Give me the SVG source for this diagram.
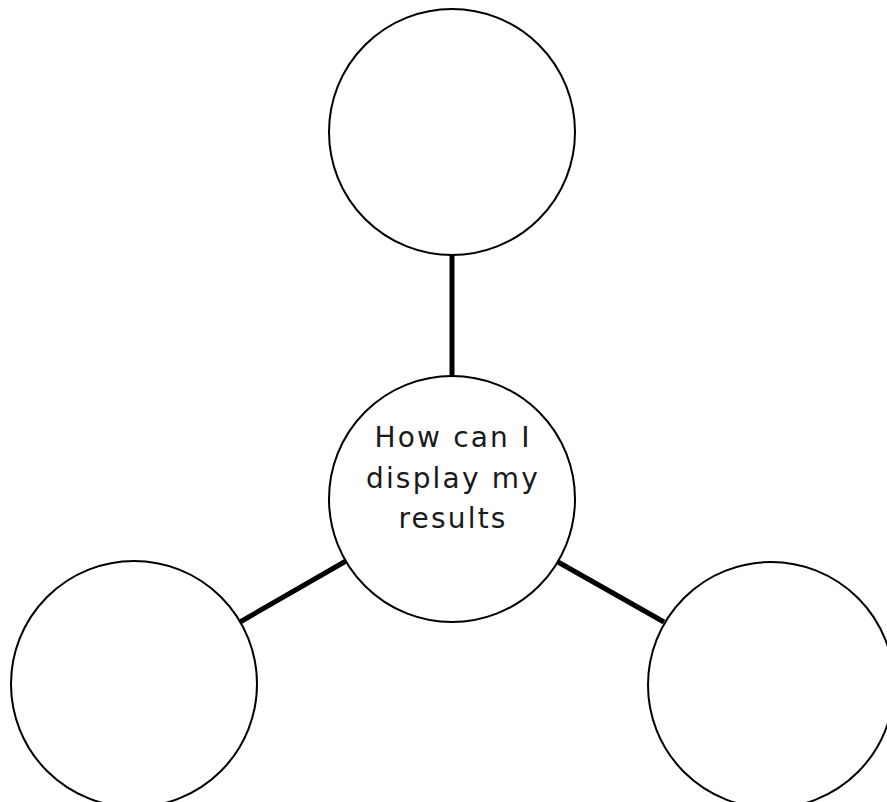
<svg xmlns="http://www.w3.org/2000/svg" width="887" height="802" viewBox="0 0 887 802">
<style>
.node{fill:#fff;stroke:#000;stroke-width:2}
.conn{stroke:#000;stroke-width:5;fill:none}
.lbl{font-family:"DejaVu Sans","Liberation Sans",sans-serif;font-size:28px;letter-spacing:2.2px;fill:#1a1a1a;text-anchor:middle}
</style>
<rect width="887" height="802" fill="#fff"/>
<g id="connectors">
<line class="conn" x1="452" y1="255" x2="452" y2="377"/>
<line class="conn" x1="240" y1="622" x2="346" y2="561"/>
<line class="conn" x1="558" y1="562" x2="664" y2="622"/>
</g>
<g id="node-top"><circle class="node" cx="452" cy="132" r="123"/></g>
<g id="node-center"><circle class="node" cx="452" cy="499" r="123"/>
<text class="lbl" x="453" y="447">How can I</text>
<text class="lbl" x="453" y="488">display my</text>
<text class="lbl" x="453" y="528">results</text>
</g>
<g id="node-left"><circle class="node" cx="134" cy="684" r="123"/></g>
<g id="node-right"><circle class="node" cx="771" cy="685" r="123"/></g>
</svg>
